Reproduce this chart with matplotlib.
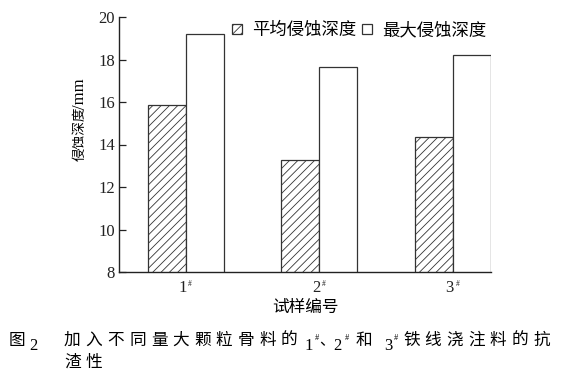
import matplotlib
matplotlib.use("Agg")
import matplotlib.pyplot as plt
from matplotlib.patches import Patch
import numpy as np

# ---- data ----
samples = ["1", "2", "3"]
avg_depth = [15.85, 13.27, 14.33]
max_depth = [19.2, 17.65, 18.22]
series_names = ["平均侵蚀深度", "最大侵蚀深度"]
y_ticks = [8, 10, 12, 14, 16, 18, 20]
x_title = "试样编号"
y_title_cjk = "侵蚀深度"
y_title_unit = "/mm"

FAM = ["Liberation Serif", "Noto Sans CJK SC"]
CJK = ["Noto Sans CJK SC", "DejaVu Sans"]
plt.rcParams["font.family"] = FAM
plt.rcParams["hatch.linewidth"] = 0.6
plt.rcParams["hatch.color"] = "#222222"

W, H = 562, 376
fig = plt.figure(figsize=(W / 100, H / 100), dpi=100)
ax = fig.add_axes([119 / W, 1 - 272 / H, (491 - 119) / W, (272 - 17) / H])

x = np.arange(len(samples))
w = 0.285
ax.bar(x - w / 2, avg_depth, w, facecolor="white", edgecolor="#333333",
       linewidth=0.9, hatch="////", label=series_names[0])
ax.bar(x + w / 2, max_depth, w, facecolor="white", edgecolor="#333333",
       linewidth=0.9, label=series_names[1])

ax.set_ylim(8, 20)
ax.set_xlim(-0.5, 2.285)
ax.set_yticks(y_ticks)
ax.set_yticklabels([str(v) for v in y_ticks], fontsize=12, family=FAM)
ax.tick_params(axis="y", direction="in", length=5, width=0.9, pad=3, colors="#222222")
ax.set_xticks(x)
ax.set_xticklabels([])
ax.tick_params(axis="x", length=0)

xt = ax.get_xaxis_transform()
for xi, s in zip(x, samples):
    ax.annotate(s, xy=(xi, 0), xycoords=xt, xytext=(1, -15.5), textcoords="offset pixels",
                ha="right", va="center", fontsize=12, family=FAM, color="#222222")
    ax.annotate("#", xy=(xi, 0), xycoords=xt, xytext=(2.5, -12), textcoords="offset pixels",
                ha="left", va="center", fontsize=5.5, family=FAM, color="#222222")

for side in ["top", "right"]:
    ax.spines[side].set_visible(False)
for side in ["left", "bottom"]:
    ax.spines[side].set_linewidth(1.0)
    ax.spines[side].set_color("#222222")

ax.set_xlabel(x_title, fontsize=12, family=CJK)
ax.xaxis.set_label_coords(0.5, (272 - 299) / 255)

def ftxt(px, py, s, **kw):
    return fig.text(px / W, 1 - py / H, s, **kw)

# y title: CJK part and unit part
ftxt(80, 134, y_title_cjk, rotation=90, family=CJK, fontsize=9.8, ha="center", va="center")
ftxt(80, 94, y_title_unit, rotation=90, family=FAM, fontsize=12, ha="center", va="center")

handles = [Patch(facecolor="white", edgecolor="#333333", hatch="////", linewidth=0.9),
           Patch(facecolor="white", edgecolor="#333333", linewidth=0.9)]
leg = ax.legend(handles, series_names, ncol=2, loc="upper left",
                bbox_to_anchor=(232 / W, 1 - 21 / H), bbox_transform=fig.transFigure,
                frameon=False, borderpad=0, borderaxespad=0,
                handlelength=0.55, handleheight=0.55, handletextpad=0.6,
                columnspacing=0.35, prop={"family": CJK, "size": 12.5})

# ---- caption ----
pitch = 21.7
def cjk_run(px, py, s):
    for i, ch in enumerate(s):
        ftxt(px + i * pitch, py, ch, family=CJK, fontsize=12, va="center", ha="left")

cjk_run(9, 340, "图")
ftxt(29, 346, "2", family=FAM, fontsize=12, va="center", ha="left")
cjk_run(64, 340, "加入不同量大颗粒骨料的")
ftxt(304, 346, "1", family=FAM, fontsize=12, va="center", ha="left")
ftxt(315, 338, "#", family=FAM, fontsize=6, va="center", ha="left")
ftxt(319, 341, "、", family=CJK, fontsize=11, va="center", ha="left")
ftxt(333, 346, "2", family=FAM, fontsize=12, va="center", ha="left")
ftxt(345, 338, "#", family=FAM, fontsize=6, va="center", ha="left")
cjk_run(356, 340, "和")
ftxt(384, 346, "3", family=FAM, fontsize=12, va="center", ha="left")
ftxt(394, 338, "#", family=FAM, fontsize=6, va="center", ha="left")
cjk_run(403, 340, "铁线浇注料的抗")
cjk_run(64, 362, "渣性")

fig.savefig("out.png", dpi=100)
